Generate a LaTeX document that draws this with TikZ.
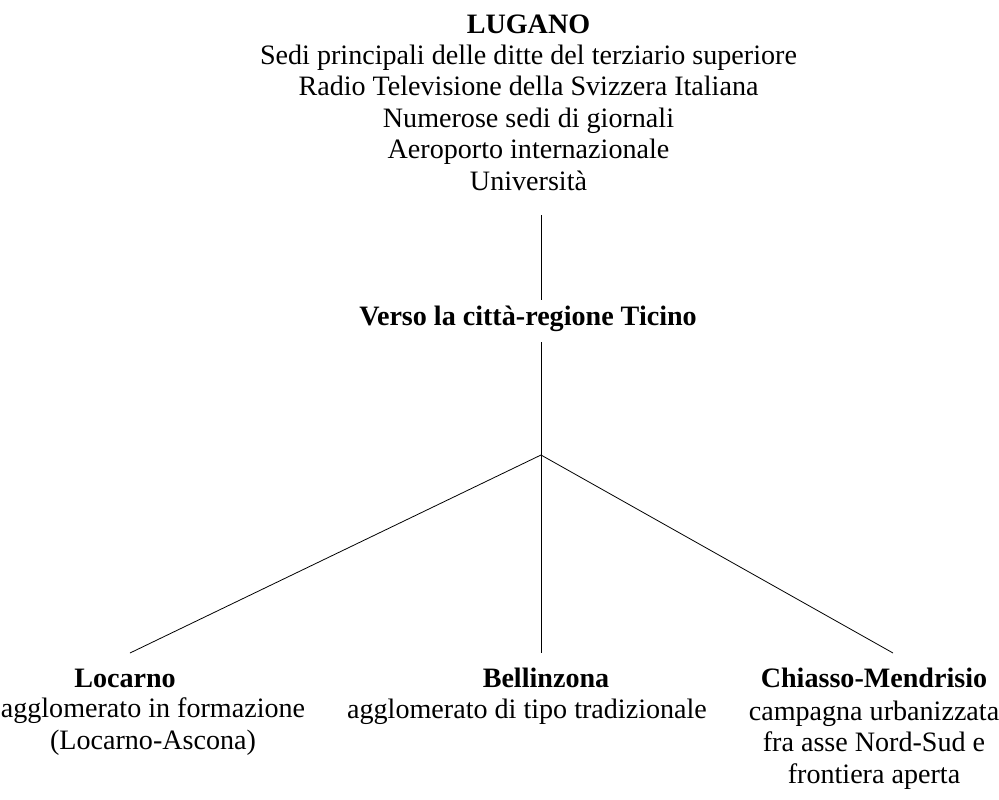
\documentclass[tikz,border=0pt]{standalone}
\usepackage{fontspec}
\setmainfont{Liberation Serif}
\begin{document}
\begin{tikzpicture}[x=1pt,y=-1pt,
  txt/.style={align=center,inner sep=0pt,font=\fontsize{28.1}{31.4}\selectfont},
  conn/.style={draw=black,line width=0.8pt}]
\useasboundingbox (0,0) rectangle (999,800);
% top block (anchor base = baseline of last line)
\node[txt,anchor=base] (lugano) at (528.5,190) {\textbf{LUGANO}\\Sedi principali delle ditte del terziario superiore\\Radio Televisione della Svizzera Italiana\\Numerose sedi di giornali\\Aeroporto internazionale\\Università};
\node[txt,anchor=base] (verso) at (528,325) {\textbf{Verso la città-regione Ticino}};
% bottom blocks
\node[txt,anchor=base] (locT) at (125,687) {\textbf{Locarno}};
\node[txt,anchor=base] (locD) at (153,749) {agglomerato in formazione\\(Locarno-Ascona)};
\node[txt,anchor=base] (belT) at (546,687) {\textbf{Bellinzona}};
\node[txt,anchor=base] (belD) at (527,718) {agglomerato di tipo tradizionale};
\node[txt,anchor=base] (chiT) at (874,687) {\textbf{Chiasso-Mendrisio}};
\node[txt,anchor=base] (chiD) at (874,783) {campagna urbanizzata\\fra asse Nord-Sud e\\frontiera aperta};
% connectors
\coordinate (topA) at (541,215);
\coordinate (topB) at (541,300);
\coordinate (midA) at (541,342);
\coordinate (hub) at (541,455);
\coordinate (endL) at (130,653);
\coordinate (endM) at (541,653);
\coordinate (endR) at (893,653);
\draw[conn] (topA) -- (topB);
\draw[conn] (midA) -- (hub);
\draw[conn] (hub) -- (endL);
\draw[conn] (hub) -- (endM);
\draw[conn] (hub) -- (endR);
\end{tikzpicture}
\end{document}
